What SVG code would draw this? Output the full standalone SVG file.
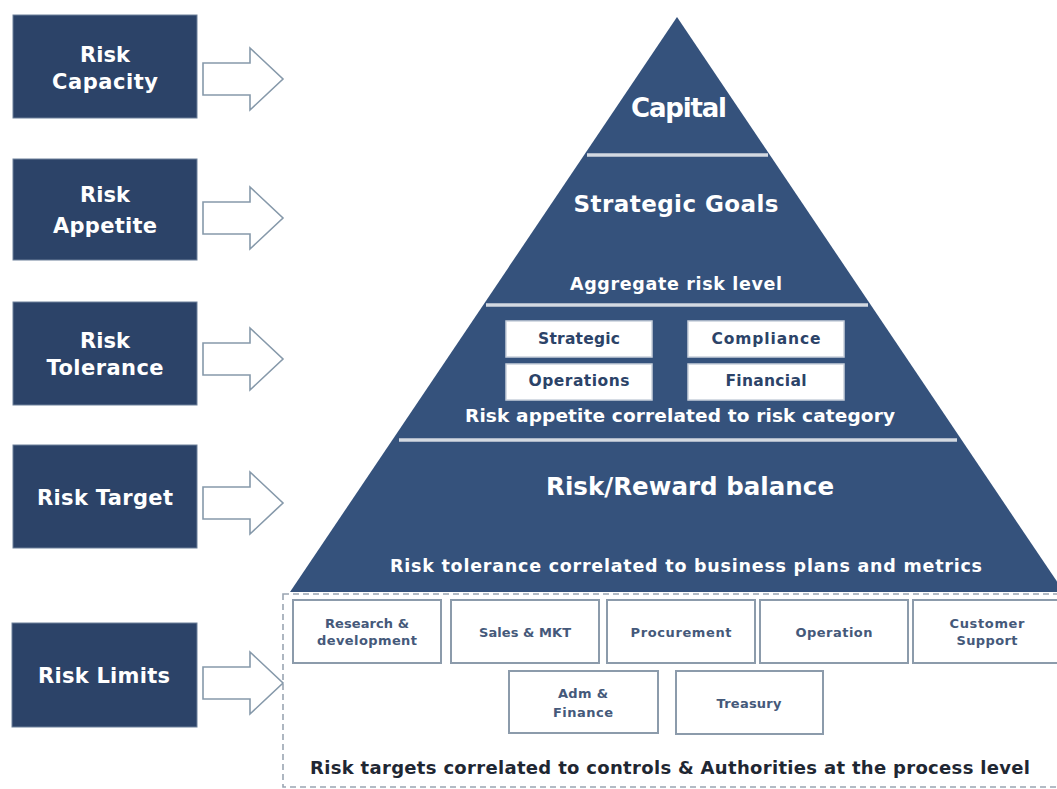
<svg xmlns="http://www.w3.org/2000/svg" width="1057" height="789" viewBox="0 0 1057 789">
<style>
.lbox{fill:#2c4368;stroke:#6d809a;stroke-width:1}
.ltxt{font-family:"DejaVu Sans",sans-serif;font-weight:bold;font-size:21px;fill:#ffffff;text-anchor:middle}
.arrow{fill:#ffffff;stroke:#8699aa;stroke-width:1.6;stroke-linejoin:miter}
.pyr{fill:#35527c}
.sep{stroke:#d3d9e1;stroke-width:3.5}
.wt{font-family:"DejaVu Sans",sans-serif;font-weight:bold;fill:#ffffff;text-anchor:middle}
.cbox{fill:#ffffff;stroke:#c9d1db;stroke-width:1.5}
.ctxt{font-family:"DejaVu Sans",sans-serif;font-weight:bold;font-size:15.5px;fill:#2c4368;text-anchor:middle}
.pbox{fill:#ffffff;stroke:#8c9bab;stroke-width:2}
.ptxt{font-family:"DejaVu Sans",sans-serif;font-weight:bold;font-size:13px;fill:#45597a;text-anchor:middle}
.dash{fill:none;stroke:#9aa5b2;stroke-width:1.6;stroke-dasharray:6 4}
</style>
<rect width="1057" height="789" fill="#ffffff"/>

<g id="pyramid">
<polygon class="pyr" points="677,17 1064,592 290,592"/>
<line class="sep" x1="587" y1="155" x2="768" y2="155"/>
<line class="sep" x1="486" y1="305" x2="868" y2="305"/>
<line class="sep" x1="399" y1="440" x2="957" y2="440"/>
</g>

<g id="capital">
<text class="wt" x="679" y="117" font-size="26" textLength="96">Capital</text>
</g>
<g id="strategic-goals">
<text class="wt" x="676" y="212" font-size="23" textLength="205">Strategic Goals</text>
<text class="wt" x="676" y="290" font-size="17.5" textLength="212">Aggregate risk level</text>
</g>
<g id="risk-category">
<text class="wt" x="680" y="422" font-size="18.5" textLength="430">Risk appetite correlated to risk category</text>
</g>
<g id="cat-strategic"><rect class="cbox" x="506" y="321" width="146" height="36"/><text class="ctxt" x="579" y="344" textLength="82">Strategic</text></g>
<g id="cat-compliance"><rect class="cbox" x="688" y="321" width="156" height="36"/><text class="ctxt" x="766" y="344" textLength="109">Compliance</text></g>
<g id="cat-operations"><rect class="cbox" x="506" y="364" width="146" height="36"/><text class="ctxt" x="579" y="386" textLength="101">Operations</text></g>
<g id="cat-financial"><rect class="cbox" x="688" y="364" width="156" height="36"/><text class="ctxt" x="766" y="386" textLength="81">Financial</text></g>
<g id="risk-reward">
<text class="wt" x="690" y="495" font-size="24.5" textLength="288">Risk/Reward balance</text>
<text class="wt" x="686" y="572" font-size="17.5" textLength="592">Risk tolerance correlated to business plans and metrics</text>
</g>

<g id="process-level">
<rect class="dash" x="283" y="594" width="790" height="193"/>
<text x="670" y="774" font-family="DejaVu Sans, sans-serif" font-weight="bold" font-size="18" fill="#1f2733" text-anchor="middle" textLength="720">Risk targets correlated to controls &amp; Authorities at the process level</text>
</g>
<g id="p-research"><rect class="pbox" x="293" y="600" width="148" height="63"/><text class="ptxt" x="367" y="628" textLength="84">Research &amp;</text><text class="ptxt" x="367" y="645" textLength="100">development</text></g>
<g id="p-sales"><rect class="pbox" x="451" y="600" width="148" height="63"/><text class="ptxt" x="525" y="637" textLength="92">Sales &amp; MKT</text></g>
<g id="p-procurement"><rect class="pbox" x="607" y="600" width="148" height="63"/><text class="ptxt" x="681" y="637" textLength="101">Procurement</text></g>
<g id="p-operation"><rect class="pbox" x="760" y="600" width="148" height="63"/><text class="ptxt" x="834" y="637" textLength="77">Operation</text></g>
<g id="p-customer"><rect class="pbox" x="913" y="600" width="148" height="63"/><text class="ptxt" x="987" y="628" textLength="75">Customer</text><text class="ptxt" x="987" y="645" textLength="61">Support</text></g>
<g id="p-adm"><rect class="pbox" x="509" y="671" width="149" height="62"/><text class="ptxt" x="583" y="698" textLength="50">Adm &amp;</text><text class="ptxt" x="583" y="717" textLength="60">Finance</text></g>
<g id="p-treasury"><rect class="pbox" x="676" y="671" width="147" height="63"/><text class="ptxt" x="749" y="708" textLength="65">Treasury</text></g>

<g id="risk-capacity"><rect class="lbox" x="13" y="15" width="184" height="103"/><text class="ltxt" x="105" y="62">Risk</text><text class="ltxt" x="105" y="89" textLength="106">Capacity</text></g>
<g id="risk-appetite"><rect class="lbox" x="13" y="159" width="184" height="101"/><text class="ltxt" x="105" y="202">Risk</text><text class="ltxt" x="105" y="233" textLength="104">Appetite</text></g>
<g id="risk-tolerance"><rect class="lbox" x="13" y="302" width="184" height="103"/><text class="ltxt" x="105" y="348">Risk</text><text class="ltxt" x="105" y="375" textLength="117">Tolerance</text></g>
<g id="risk-target"><rect class="lbox" x="13" y="445" width="184" height="103"/><text class="ltxt" x="105" y="505" textLength="136">Risk Target</text></g>
<g id="risk-limits"><rect class="lbox" x="12" y="623" width="185" height="104"/><text class="ltxt" x="104" y="683" textLength="132">Risk Limits</text></g>

<g id="connectors">
<path class="arrow" d="M203,63 L250,63 L250,48 L283,79 L250,110 L250,95 L203,95 Z"/>
<path class="arrow" d="M203,202 L250,202 L250,187 L283,218 L250,249 L250,234 L203,234 Z"/>
<path class="arrow" d="M203,343 L250,343 L250,328 L283,359 L250,390 L250,375 L203,375 Z"/>
<path class="arrow" d="M203,487 L250,487 L250,472 L283,503 L250,534 L250,519 L203,519 Z"/>
<path class="arrow" d="M203,667 L250,667 L250,652 L283,683 L250,714 L250,699 L203,699 Z"/>
</g>
</svg>
